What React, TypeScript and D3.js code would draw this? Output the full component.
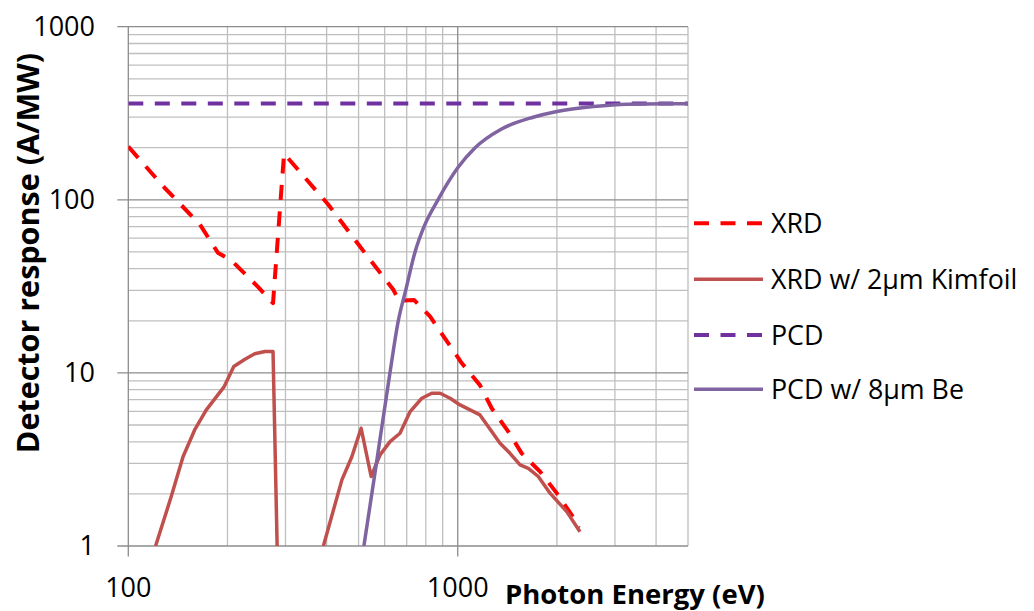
import React from "react";
import * as d3 from "d3";

// ---- Data ----
const xrdEnergy = [100, 129, 165, 187, 206, 248, 275, 297, 405, 542, 638, 663, 737, 824, 1028, 1168, 1268, 1424, 1564, 1778, 1998, 2219, 2330];
const xrdValue = [203, 117, 72, 49.5, 44.5, 31.3, 25.3, 185, 93.6, 45, 30.2, 26.1, 26.4, 21.2, 11.4, 8.5, 6.25, 4.58, 3.43, 2.69, 2.02, 1.51, 1.27];

const kimEnergy = [121, 135, 146.6, 159, 172.5, 187, 195, 209, 226, 242, 260, 275, 283, null, 391, 445, 477, 509, 546, 581, 623, 668, 717, 778, 834, 884, 948, 1016, 1090, 1168, 1268, 1344, 1441, 1546, 1638, 1756, 1906, 2142, 2350];
const kimValue = [1.0, 1.93, 3.28, 4.68, 6.11, 7.46, 8.27, 10.9, 12.0, 12.9, 13.3, 13.3, 1.0, null, 1.0, 2.41, 3.28, 4.79, 2.52, 3.36, 4.01, 4.48, 5.98, 7.14, 7.63, 7.63, 7.14, 6.53, 6.11, 5.72, 4.58, 3.92, 3.43, 2.94, 2.81, 2.52, 2.02, 1.58, 1.21];

const pcdEnergy = [100, 5000];
const pcdValue = [360, 360];

const pcdBeEnergy = [519, 560, 618, 660, 695, 742, 790, 871, 1000, 1129, 1350, 1693, 2000, 2580, 3260, 5000];
const pcdBeValue = [1.0, 2.6, 9.1, 20, 30, 50, 70, 100, 153, 200, 255, 300, 324, 346, 357, 359];

const xMajorTicks = [100, 1000];
const xMinorTicks = [200, 300, 400, 500, 600, 700, 800, 900, 2000, 3000, 4000, 5000];
const yMajorTicks = [1, 10, 100, 1000];
const yMinorTicks = [2, 3, 4, 5, 6, 7, 8, 9, 20, 30, 40, 50, 60, 70, 80, 90, 200, 300, 400, 500, 600, 700, 800, 900];

const seriesNames = ["XRD", "XRD w/ 2µm Kimfoil", "PCD", "PCD w/ 8µm Be"];
const seriesColors = ["#FF0000", "#C0504D", "#7030A0", "#8064A2"];
const seriesDashed = [true, false, true, false];

const xAxisTitle = "Photon Energy (eV)";
const yAxisTitle = "Detector response (A/MW)";

// ---- Layout ----
const W = 1034;
const H = 611;
const left = 128.3;
const right = 688;
const top = 26.7;
const bottom = 546;
const FONT = "'Open Sans', 'Liberation Sans', sans-serif";

const x = d3.scaleLog().domain([100, 5000]).range([left, right]);
const y = d3.scaleLog().domain([1, 1000]).range([bottom, top]);

type Pt = { e: number | null; v: number | null };
const zip = (es: (number | null)[], vs: (number | null)[]): Pt[] => es.map((e, i) => ({ e, v: vs[i] }));

const lineGen = d3
  .line<Pt>()
  .defined((d) => d.e != null && d.v != null)
  .x((d) => x(d.e as number))
  .y((d) => y(d.v as number));

const smoothGen = d3
  .line<Pt>()
  .x((d) => x(d.e as number))
  .y((d) => y(d.v as number))
  .curve(d3.curveMonotoneX);

const series = [
  { d: lineGen(zip(xrdEnergy, xrdValue)) },
  { d: lineGen(zip(kimEnergy, kimValue)) },
  { d: lineGen(zip(pcdEnergy, pcdValue)) },
  { d: smoothGen(zip(pcdBeEnergy, pcdBeValue)) },
];

const DASH = "15,11.5";

export default function App() {
  const legendX0 = 694;
  const legendX1 = 763;
  const legendY = [223.3, 279.3, 335, 389.3];
  return (
    <svg width={W} height={H} style={{ position: "absolute", left: 0, top: 0, background: "#fff" }}>
      <defs>
        <clipPath id="plotClip">
          <rect x={left} y={top - 3} width={right - left + 3} height={bottom - top + 3} />
        </clipPath>
      </defs>
      {/* minor gridlines */}
      <g stroke="#BFBFBF" strokeWidth={1.3}>
        {xMinorTicks.map((t) => (
          <line key={"xm" + t} x1={x(t)} x2={x(t)} y1={top} y2={bottom} />
        ))}
        {yMinorTicks.map((t) => (
          <line key={"ym" + t} x1={left} x2={right} y1={y(t)} y2={y(t)} />
        ))}
      </g>
      {/* major gridlines */}
      <g stroke="#8C8C8C" strokeWidth={1.3}>
        {xMajorTicks.map((t) => (
          <line key={"xM" + t} x1={x(t)} x2={x(t)} y1={top} y2={bottom + 10.5} />
        ))}
        {yMajorTicks.map((t) => (
          <line key={"yM" + t} x1={left - 11} x2={right} y1={y(t)} y2={y(t)} />
        ))}
      </g>
      {/* series */}
      <g clipPath="url(#plotClip)" fill="none" strokeLinejoin="round">
        {series.map((s, i) => (
          <path
            key={i}
            d={s.d || ""}
            stroke={seriesColors[i]}
            strokeWidth={seriesDashed[i] ? 4 : 3.5}
            strokeDasharray={seriesDashed[i] ? DASH : undefined}
          />
        ))}
      </g>
      {/* y tick labels */}
      <g fontFamily={FONT} fontSize={27} fill="#000" textAnchor="end">
        {yMajorTicks.map((t) => (
          <text key={"yl" + t} x={95} y={y(t)} dy="0.35em">
            {t}
          </text>
        ))}
      </g>
      {/* x tick labels */}
      <g fontFamily={FONT} fontSize={27} fill="#000" textAnchor="middle">
        {xMajorTicks.map((t) => (
          <text key={"xl" + t} x={x(t)} y={597}>
            {t}
          </text>
        ))}
      </g>
      {/* axis titles */}
      <text x={505} y={604} fontFamily={FONT} fontSize={27.5} fontWeight="bold" fill="#000">
        {xAxisTitle}
      </text>
      <text
        transform={`translate(39,253) rotate(-90)`}
        textAnchor="middle"
        fontFamily={FONT}
        fontSize={30.5}
        fontWeight="bold"
        fill="#000"
      >
        {yAxisTitle}
      </text>
      {/* legend */}
      <g fontFamily={FONT} fontSize={26.8} fill="#000">
        {seriesNames.map((n, i) => (
          <g key={n}>
            <line
              x1={legendX0}
              x2={legendX1}
              y1={legendY[i]}
              y2={legendY[i]}
              stroke={seriesColors[i]}
              strokeWidth={seriesDashed[i] ? 4 : 3.5}
              strokeDasharray={seriesDashed[i] ? DASH : undefined}
            />
            <text x={771} y={legendY[i]} dy="0.36em">
              {n}
            </text>
          </g>
        ))}
      </g>
    </svg>
  );
}
